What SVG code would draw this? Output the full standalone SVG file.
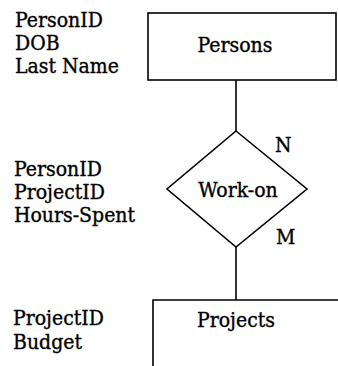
<svg xmlns="http://www.w3.org/2000/svg" width="338" height="366" viewBox="0 0 338 366">
<style>
text{font-family:"DejaVu Serif Condensed","DejaVu Serif","Liberation Serif",serif;font-stretch:condensed;font-size:21px;fill:#000;stroke:#000;stroke-width:0.35}
.c{text-anchor:middle}
.s{fill:none;stroke:#000;stroke-width:1.6}
</style>
<rect width="338" height="366" fill="#fff"/>
<g id="connectors">
<line class="s" x1="236" y1="80" x2="236" y2="131"/>
<line class="s" x1="236" y1="247" x2="236" y2="300"/>
</g>
<g id="persons">
<rect class="s" x="148" y="13" width="188" height="67"/>
<text class="c" x="235" y="52">Persons</text>
</g>
<g id="persons-attrs">
<text x="15" y="27">PersonID</text>
<text x="15" y="50">DOB</text>
<text x="15" y="73">Last Name</text>
</g>
<g id="work-on">
<polygon class="s" points="236,131 307,189 236,247 167,189"/>
<text class="c" x="238" y="197">Work-on</text>
</g>
<g id="work-on-attrs">
<text x="14" y="176">PersonID</text>
<text x="14" y="199">ProjectID</text>
<text x="14" y="222">Hours-Spent</text>
</g>
<g id="cardinalities">
<text x="275" y="152">N</text>
<text x="276" y="244">M</text>
</g>
<g id="projects">
<path class="s" d="M153,366 V300 H338"/>
<text class="c" x="236" y="327">Projects</text>
</g>
<g id="projects-attrs">
<text x="13" y="325">ProjectID</text>
<text x="13" y="349">Budget</text>
</g>
</svg>
